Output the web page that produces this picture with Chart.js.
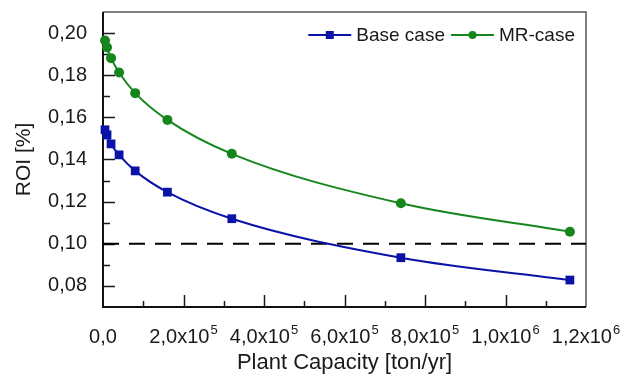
<!DOCTYPE html>
<html>
<head>
<meta charset="utf-8">
<script src="https://cdn.jsdelivr.net/npm/chart.js@4.4.0/dist/chart.umd.min.js"></script>
<style>
  html, body { margin: 0; padding: 0; background: #fff; }
  #wrap { width: 624px; height: 382px; }
</style>
</head>
<body>
<div id="wrap"><canvas id="roiChart" width="624" height="382"></canvas></div>
<script>
// --- Data ---
const capacity = [5000, 10000, 20000, 40000, 80000, 160000, 320000, 740000, 1160000];
const baseCase = [0.1541, 0.1517, 0.1474, 0.1422, 0.1346, 0.1245, 0.1119, 0.0934, 0.0828];
const mrCase   = [0.1965, 0.1932, 0.1881, 0.1813, 0.1715, 0.1588, 0.1427, 0.1192, 0.1057];
const seriesNames = ["Base case", "MR-case"];
const targetRoi = 0.10;
const xLimits = [0, 1200000];
const yLimits = [0.07, 0.21];

const BLUE = "#0b12a8";
const GREEN = "#15861c";
const TEXT = "#1a1a1a";
const FONT = "'Liberation Sans', Arial, sans-serif";

const toPoints = (ys) => capacity.map((c, i) => ({ x: c, y: ys[i] }));

// --- Helpers ---
function sciParts(v) {
  if (v === 0) return ["0,0", ""];
  const e = Math.floor(Math.log10(v) + 1e-9);
  const m = v / Math.pow(10, e);
  return [m.toFixed(1).replace(".", ",") + "x10", String(e)];
}
const isMajorX = (v) => Math.round(v / 100000) % 2 === 0;
const isMajorY = (v) => Math.round(v * 100) % 2 === 0;

// --- Frame + inward ticks + x labels with superscript ---
const frameTicks = {
  id: "frameTicks",
  beforeDatasetsDraw(chart) {
    const { ctx, chartArea: a, scales: { x, y } } = chart;
    ctx.save();
    ctx.strokeStyle = "#1a1a1a";
    ctx.lineWidth = 1.5;
    ctx.beginPath();
    x.ticks.forEach(t => {
      const px = Math.round(x.getPixelForValue(t.value)) + 0.5;
      if (px <= a.left + 2 || px >= a.right - 2) return;
      const len = isMajorX(t.value) ? 12 : 6;
      ctx.moveTo(px, a.bottom); ctx.lineTo(px, a.bottom - len);
    });
    y.ticks.forEach(t => {
      const py = Math.round(y.getPixelForValue(t.value)) + 0.5;
      if (py <= a.top + 2 || py >= a.bottom - 2) return;
      const len = isMajorY(t.value) ? 12 : 7;
      ctx.moveTo(a.left, py); ctx.lineTo(a.left + len, py);
    });
    ctx.stroke();
    ctx.strokeStyle = "#555";
    ctx.lineWidth = 1.5;
    ctx.beginPath();
    ctx.moveTo(a.left, a.top); ctx.lineTo(a.right, a.top); ctx.lineTo(a.right, a.bottom);
    ctx.stroke();
    ctx.strokeStyle = "#111";
    ctx.lineWidth = 2;
    ctx.beginPath();
    ctx.moveTo(a.left, a.top); ctx.lineTo(a.left, a.bottom); ctx.lineTo(a.right, a.bottom);
    ctx.stroke();

    // x tick labels: mantissa x 10 with raised exponent
    ctx.fillStyle = TEXT;
    ctx.textBaseline = "alphabetic";
    ctx.textAlign = "left";
    x.ticks.forEach(t => {
      if (!isMajorX(t.value)) return;
      const [base, exp] = sciParts(t.value);
      ctx.font = "20px " + FONT;
      const wb = ctx.measureText(base).width;
      ctx.font = "13px " + FONT;
      const we = exp ? ctx.measureText(exp).width + 1 : 0;
      const px = x.getPixelForValue(t.value);
      const x0 = px - (wb + we) / 2;
      ctx.font = "20px " + FONT;
      ctx.fillText(base, x0, a.bottom + 36);
      if (exp) {
        ctx.font = "13px " + FONT;
        ctx.fillText(exp, x0 + wb + 1, a.bottom + 27);
      }
    });
    ctx.restore();
  },
  afterDatasetsDraw(chart) {
    // legend: line with marker, then name, right aligned at top of plot
    const { ctx, chartArea: a } = chart;
    const colors = [BLUE, GREEN];
    const shapes = ["rect", "circle"];
    ctx.save();
    ctx.font = "19px " + FONT;
    ctx.textBaseline = "middle";
    const cy = a.top + 23;
    const lineW = 43, gapText = 5, gapItem = 6;
    let total = 0;
    const widths = seriesNames.map(n => ctx.measureText(n).width);
    widths.forEach((w, i) => { total += lineW + gapText + w + (i ? gapItem : 0); });
    let cx = a.right - 11 - total;
    seriesNames.forEach((name, i) => {
      ctx.strokeStyle = colors[i]; ctx.fillStyle = colors[i]; ctx.lineWidth = 2;
      ctx.beginPath(); ctx.moveTo(cx, cy); ctx.lineTo(cx + lineW, cy); ctx.stroke();
      const mx = cx + lineW / 2;
      if (shapes[i] === "rect") ctx.fillRect(mx - 4, cy - 4, 8, 8);
      else { ctx.beginPath(); ctx.arc(mx, cy, 4, 0, Math.PI * 2); ctx.fill(); }
      ctx.fillStyle = TEXT;
      ctx.fillText(name, cx + lineW + gapText, cy + 1);
      cx += lineW + gapText + widths[i] + gapItem;
    });
    ctx.restore();
  }
};

const lineStyle = (color, pointStyle, radius) => ({
  borderColor: color,
  backgroundColor: color,
  borderWidth: 2,
  pointStyle: pointStyle,
  pointRadius: radius,
  pointBorderWidth: 0,
  cubicInterpolationMode: "monotone",
  clip: false
});

const noPad = (s) => { s.paddingLeft = 0; s.paddingRight = 0; s.paddingTop = 0; s.paddingBottom = 0; };

new Chart(document.getElementById("roiChart"), {
  type: "line",
  data: {
    datasets: [
      { label: "target", data: xLimits.map(v => ({ x: v, y: targetRoi })),
        borderColor: "#000", borderWidth: 2, borderDash: [16, 10], pointRadius: 0, order: 3 },
      { label: seriesNames[0], data: toPoints(baseCase), ...lineStyle(BLUE, "rect", 6.2), order: 2 },
      { label: seriesNames[1], data: toPoints(mrCase), ...lineStyle(GREEN, "circle", 5), order: 1 }
    ]
  },
  options: {
    responsive: false,
    animation: false,
    devicePixelRatio: 1,
    layout: { padding: { left: 0, top: 12, right: 38, bottom: 0 } },
    plugins: {
      tooltip: { enabled: false },
      legend: { display: false }
    },
    scales: {
      x: {
        type: "linear",
        min: xLimits[0], max: xLimits[1],
        afterFit: (s) => { s.height = 75; noPad(s); },
        grid: { display: false, drawTicks: false },
        border: { display: false },
        ticks: { stepSize: 100000, autoSkip: false, maxRotation: 0, display: false },
        title: { display: true, text: "Plant Capacity [ton/yr]", color: TEXT,
                 font: { family: FONT, size: 22 }, padding: { top: 0, bottom: 6 } }
      },
      y: {
        min: yLimits[0], max: yLimits[1],
        afterFit: (s) => { s.width = 103; noPad(s); },
        grid: { display: false, drawTicks: false },
        border: { display: false },
        ticks: {
          stepSize: 0.01, autoSkip: false, padding: 16,
          color: TEXT, font: { family: FONT, size: 20 },
          callback: (v) => isMajorY(v) ? v.toFixed(2).replace(".", ",") : ""
        },
        title: { display: true, text: "ROI [%]", color: TEXT,
                 font: { family: FONT, size: 21 }, padding: { top: 12, bottom: 0 } }
      }
    }
  },
  plugins: [frameTicks]
});
</script>
</body>
</html>
